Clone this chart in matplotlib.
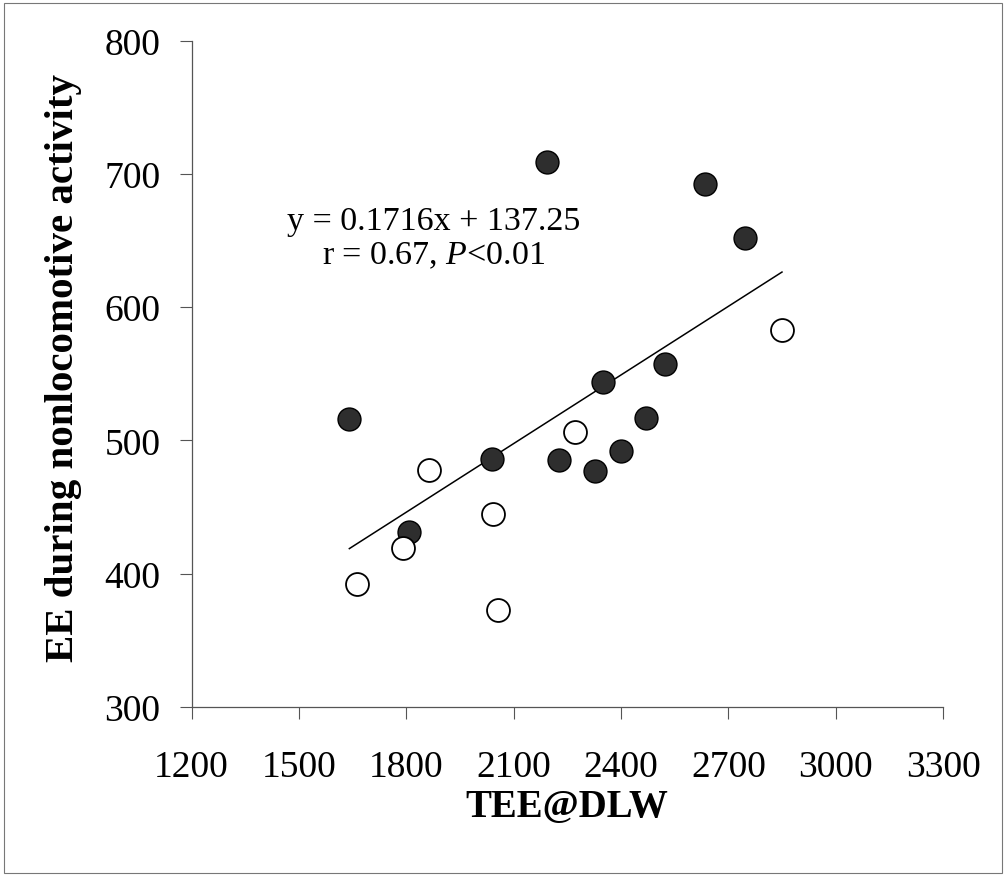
import matplotlib as mpl
mpl.use('Agg')
from matplotlib import pyplot as plt
from matplotlib.patches import Rectangle
import numpy as np

mpl.rc('font', family='Liberation Serif')
mpl.rc('mathtext', fontset='custom', rm='Liberation Serif', it='Liberation Serif:italic')

# filled circles
tee_filled = [1641, 2192, 2635, 2746, 2351, 2523, 2470, 2039, 2228, 2401, 2328, 1809]
ee_filled = [516, 709, 692, 652, 544, 557, 517, 486, 485, 492, 477, 431]

# open circles
tee_open = [1864, 2272, 2043, 1792, 1662, 2057, 2850]
ee_open = [478, 506, 445, 419, 392, 373, 583]

slope = 0.1716
intercept = 137.25

x_ticks = [1200, 1500, 1800, 2100, 2400, 2700, 3000, 3300]
y_ticks = [300, 400, 500, 600, 700, 800]

fig = plt.figure(figsize=(10.06, 8.78), dpi=100)
ax = fig.add_axes([0.1904, 0.1936, 0.7470, 0.7591])

# regression line over the data range
all_x = np.array(tee_filled + tee_open)
lx = np.array([all_x.min(), all_x.max()])
ax.plot(lx, slope * lx + intercept, c='k', lw=1.1, zorder=2)

ax.plot(tee_filled, ee_filled, 'o', ms=16.5, mfc='#2e2e2e', mec='k', mew=1.0, zorder=3)
ax.plot(tee_open, ee_open, 'o', ms=16.5, mfc='white', mec='k', mew=1.3, zorder=3)

ax.set_xlim(1200, 3300)
ax.set_ylim(300, 800)
ax.set_xticks(x_ticks)
ax.set_yticks(y_ticks)

for s in ['top', 'right']:
    ax.spines[s].set_visible(False)
for s in ['left', 'bottom']:
    ax.spines[s].set_color('#555555')
    ax.spines[s].set_linewidth(0.9)

ax.tick_params(axis='both', direction='out', length=8.5, width=0.8, color='#555555',
               labelsize=27)
ax.tick_params(axis='y', pad=14)
ax.tick_params(axis='x', pad=22)

ax.set_ylabel('EE during nonlocomotive activity', fontsize=29.5, fontweight='bold', va='center')
ax.yaxis.set_label_coords(-0.170, 0.51)
ax.set_xlabel('TEE@DLW', fontsize=28, fontweight='bold', va='center')
ax.xaxis.set_label_coords(0.5, -0.149)

ax.text(1878, 665, 'y = 0.1716x + 137.25', fontsize=24.5, ha='center', va='center')
ax.text(1878, 639, r'r = 0.67, $\mathit{P}$<0.01', fontsize=24.5, ha='center', va='center')

# thin frame around the whole picture
fig.patches.append(Rectangle((0.004, 0.004), 0.992, 0.992, transform=fig.transFigure,
                             fill=False, ec='#777777', lw=0.8))

fig.savefig('out.png', dpi=100)
